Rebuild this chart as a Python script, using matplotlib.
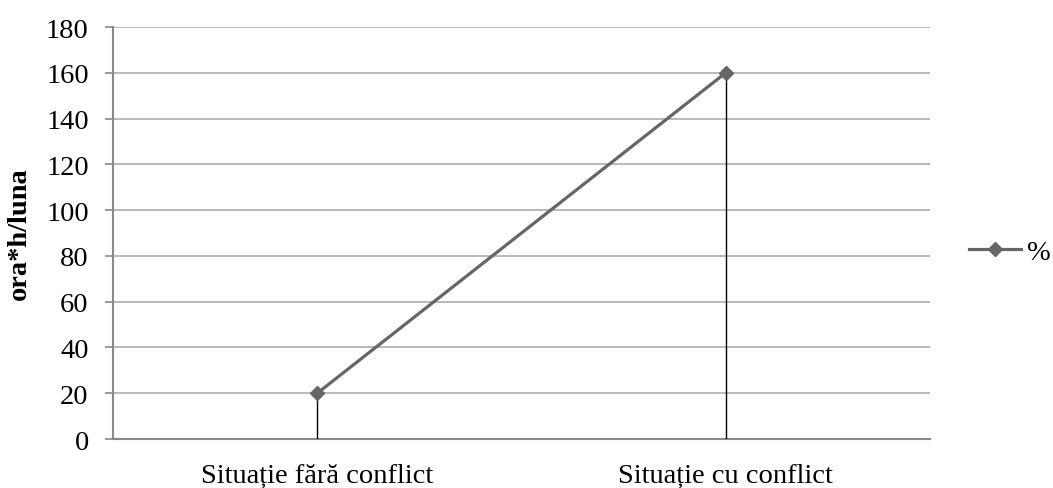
import numpy as np
import matplotlib.pyplot as plt

# data
categories = ['Situație fără conflict', 'Situație cu conflict']
values = [20, 160]
series_name = '%'
yticks = [0, 20, 40, 60, 80, 100, 120, 140, 160, 180]

plt.rcParams['font.family'] = ['Liberation Serif', 'DejaVu Serif']
fs = 20.5

fig = plt.figure(figsize=(10.53, 4.89), dpi=100)
ax = fig.add_axes([0.1073, 0.1002, 0.7759, 0.8425])

x = np.arange(len(categories))

# drop lines from axis to each point
ax.vlines(x, 0, values, color='black', linewidth=1.0, zorder=3)
ax.plot(x, values, color='#666666', linewidth=2.3, marker='D', markersize=7,
        label=series_name, zorder=4)

ax.set_xlim(-0.5, len(categories) - 0.5)
ax.set_ylim(0, 180)
ax.set_yticks(yticks)
ax.set_xticks(x)
ax.set_xticklabels(categories, fontsize=fs)
ax.tick_params(axis='y', labelsize=fs, length=5.5, width=1.2, color='#888888', pad=12)
ax.tick_params(axis='x', length=0, pad=17)

ax.yaxis.grid(True, color='#a6a6a6', linewidth=1.1)
ax.set_axisbelow(True)
for s in ['top', 'right']:
    ax.spines[s].set_visible(False)
for s in ['left', 'bottom']:
    ax.spines[s].set_color('#888888')
    ax.spines[s].set_linewidth(1.5)

ax.set_ylabel('ora*h/luna', fontsize=fs, fontweight='bold', labelpad=10)

ax.legend(loc='center left', bbox_to_anchor=(0.920, 0.482), bbox_transform=fig.transFigure,
          frameon=False, fontsize=fs, handlelength=1.85, handletextpad=0.2,
          borderpad=0, borderaxespad=0)

fig.savefig('out.png', dpi=100)
